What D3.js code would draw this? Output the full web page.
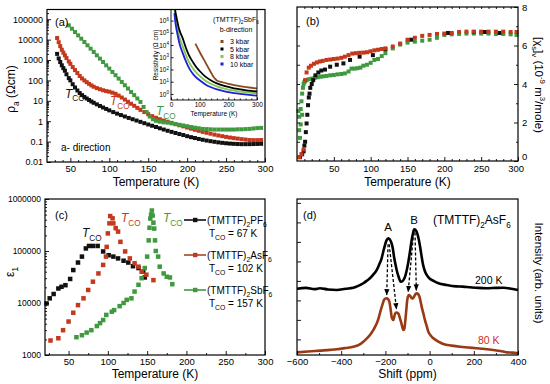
<!DOCTYPE html>
<html>
<head>
<meta charset="utf-8">
<script src="https://cdn.jsdelivr.net/npm/d3@7"></script>
<style>
  body { margin: 0; background: #fff; }
  svg text { font-family: "Liberation Sans", Arial, Helvetica, sans-serif; }
</style>
</head>
<body>
<svg id="chart" width="550" height="384"></svg>
<script>
// ---------- panel (a): resistivity, a-direction ----------
const tA_pf6 = [33, 35, 37, 39, 41, 43, 45, 48, 50, 53, 56, 59, 62, 65, 68, 71, 74, 77, 80, 84, 88, 92, 96, 100, 105, 110, 115, 120, 125, 130, 135, 140, 145, 150, 155, 160, 165, 170, 175, 180, 185, 190, 195, 200, 205, 210, 215, 220, 225, 230, 235, 240, 245, 250, 255, 260, 265, 270, 275, 280, 285, 290, 295];
const rhoA_pf6 = [2000, 1200, 800, 550, 400, 300, 200, 130, 100, 65, 45, 32, 24, 19, 15.5, 13, 11, 9.3, 8, 6.7, 5.6, 4.7, 4.0, 3.4, 2.8, 2.35, 2.0, 1.7, 1.45, 1.25, 1.08, 0.93, 0.8, 0.69, 0.6, 0.52, 0.45, 0.39, 0.34, 0.3, 0.265, 0.235, 0.21, 0.185, 0.165, 0.15, 0.135, 0.123, 0.113, 0.105, 0.098, 0.092, 0.087, 0.083, 0.08, 0.078, 0.076, 0.075, 0.075, 0.075, 0.076, 0.077, 0.078];
const tA_asf6 = [33, 35, 37, 39, 41, 43, 45, 48, 50, 53, 56, 59, 62, 65, 68, 71, 74, 77, 80, 84, 88, 92, 96, 100, 104, 108, 112, 116, 120, 124, 128, 132, 136, 140, 145, 150, 155, 160, 165, 170, 175, 180, 185, 190, 195, 200, 205, 210, 215, 220, 225, 230, 235, 240, 245, 250, 255, 260, 265, 270, 275, 280, 285, 290, 295];
const rhoA_asf6 = [12000, 7500, 4800, 3200, 2300, 1700, 1250, 850, 650, 450, 320, 230, 165, 125, 100, 82, 68, 57, 49, 42, 37, 33, 30, 28, 25, 22, 18, 14.5, 11.5, 9, 7.2, 5.7, 4.5, 3.6, 2.8, 2.2, 1.78, 1.47, 1.25, 1.08, 0.95, 0.83, 0.72, 0.63, 0.56, 0.49, 0.43, 0.38, 0.34, 0.3, 0.27, 0.245, 0.22, 0.2, 0.185, 0.17, 0.158, 0.148, 0.14, 0.132, 0.126, 0.12, 0.118, 0.118, 0.12];
const tA_sbf6 = [48, 52, 56, 60, 64, 68, 72, 76, 80, 84, 88, 92, 96, 100, 104, 108, 112, 116, 120, 124, 128, 132, 136, 140, 144, 148, 152, 156, 160, 165, 170, 175, 180, 185, 190, 195, 200, 205, 210, 215, 220, 225, 230, 235, 240, 245, 250, 255, 260, 265, 270, 275, 280, 285, 290, 295];
const rhoA_sbf6 = [50000, 34400, 23600, 16200, 11100, 7650, 5260, 3610, 2480, 1700, 1170, 800, 550, 380, 260, 180, 123, 84, 58, 40, 27, 19, 13, 8.8, 5.0, 2.8, 1.7, 1.25, 1.05, 0.95, 0.88, 0.85, 0.78, 0.72, 0.67, 0.62, 0.57, 0.52, 0.48, 0.45, 0.42, 0.41, 0.4, 0.39, 0.39, 0.39, 0.39, 0.39, 0.39, 0.4, 0.4, 0.41, 0.42, 0.44, 0.46, 0.47];
const aTicksX = [50, 100, 150, 200, 250, 300];
const aTicksY = [0.01, 0.1, 1, 10, 100, 1000, 10000, 100000];

// inset: (TMTTF)2SbF6, b-direction, under pressure
const tIn = [12, 15, 20, 25, 30, 40, 50, 60, 70, 80, 90, 100, 120, 140, 160, 180, 200, 220, 250, 280, 300];
const rhoIn5 = [2e7, 6e6, 1.5e6, 4e5, 1.5e5, 4e4, 8000, 2000, 700, 300, 140, 75, 26, 12.6, 7.4, 5, 3.7, 2.9, 2.2, 1.75, 1.6];
const rhoIn8 = [1e7, 2.5e6, 5e5, 1.2e5, 4e4, 9000, 2000, 550, 200, 95, 50, 30, 12, 6.5, 4.2, 3.0, 2.3, 1.9, 1.5, 1.25, 1.15];
const rhoIn10 = [4e6, 8e5, 1.5e5, 4e4, 1.2e4, 2500, 600, 180, 70, 35, 20, 13, 6, 3.5, 2.4, 1.8, 1.4, 1.15, 0.95, 0.8, 0.72];
const tIn3 = [85, 100, 120, 140, 148, 160, 180, 200, 220, 250, 280, 300];
const rhoIn3 = [13000, 2700, 380, 54, 25, 12.6, 9, 6.6, 5.2, 4, 3.2, 2.8];
const inLegend = ["3 kbar", "5 kbar", "8 kbar", "10 kbar"];
const inTicksX = [0, 100, 200, 300];
const inTicksY = [1, 10, 100, 1000, 10000, 100000, 1000000];

// ---------- panel (b): spin susceptibility ----------
const tB_pf6 = [4, 7, 9, 10, 11, 12, 13, 14, 15, 16, 17, 18, 20, 22, 25, 29, 33, 38, 45, 54, 63, 72, 85, 103, 120, 155, 205, 240, 255, 275];
const chiB_pf6 = [0.2, 0.35, 0.5, 0.8, 1.0, 1.5, 1.95, 2.4, 2.9, 3.3, 3.5, 3.8, 4.0, 4.2, 4.45, 4.6, 4.7, 4.75, 4.9, 5.0, 5.07, 5.25, 5.42, 5.5, 5.8, 6.3, 6.65, 6.7, 6.7, 6.65];
const tB_asf6 = [3, 6, 9, 11, 13, 16, 19, 23, 27, 31, 35, 40, 45, 50, 55, 60, 65, 70, 75, 80, 85, 90, 95, 100, 105, 110, 115, 120, 130, 140, 150, 160, 170, 180, 190, 200, 210, 220, 230, 240, 250, 260, 270, 280, 290, 298];
const chiB_asf6 = [0.2, 0.35, 0.6, 4.2, 4.6, 4.85, 4.95, 5.05, 5.12, 5.17, 5.2, 5.25, 5.27, 5.3, 5.32, 5.36, 5.42, 5.5, 5.58, 5.6, 5.62, 5.63, 5.65, 5.7, 5.75, 5.78, 5.82, 5.85, 5.95, 6.1, 6.3, 6.4, 6.5, 6.55, 6.6, 6.62, 6.65, 6.7, 6.72, 6.72, 6.72, 6.72, 6.72, 6.72, 6.7, 6.7];
const tB_sbf6 = [2, 3, 3, 4, 5, 5, 6, 7, 7, 8, 9, 10, 11, 13, 16, 20, 24, 28, 32, 36, 40, 45, 50, 55, 60, 65, 70, 74, 78, 82, 86, 90, 95, 100, 105, 110, 115, 120, 130, 140, 150, 160, 170, 180, 190, 200, 210, 220, 230, 240, 250, 260, 270, 280, 290, 298];
const chiB_sbf6 = [2.6, 2.3, 1.6, 1.2, 1.9, 2.7, 3.1, 2.4, 3.5, 3.8, 4.0, 4.1, 4.15, 4.2, 4.25, 4.28, 4.32, 4.35, 4.38, 4.4, 4.42, 4.45, 4.47, 4.5, 4.52, 4.55, 4.65, 4.8, 4.8, 4.82, 4.85, 4.95, 5.0, 5.1, 5.25, 5.3, 5.45, 5.6, 5.85, 6.05, 6.15, 6.2, 6.25, 6.3, 6.4, 6.55, 6.58, 6.6, 6.62, 6.62, 6.62, 6.62, 6.6, 6.6, 6.58, 6.55];
const bTicksX = [50, 100, 150, 200, 250, 300];
const bTicksY = [0, 2, 4, 6, 8];

// ---------- panel (c): dielectric constant ----------
const tC_pf6 = [22, 26, 31, 37, 41, 46, 52, 56, 62, 67, 72, 76, 81, 87, 94, 101, 107, 113, 120, 126, 132, 139, 145, 147];
const epsC_pf6 = [9800, 12300, 14900, 19000, 20500, 22000, 29000, 43000, 60000, 78000, 112000, 125000, 125000, 125000, 98000, 83000, 78000, 72000, 65000, 60000, 51000, 47000, 40000, 31000];
const tC_asf6 = [27, 37, 43, 50, 56, 62, 69, 75, 81, 88, 94, 97.6, 98.5, 100, 102, 103, 106, 107, 110, 113, 116, 122, 128, 134, 139, 143, 149, 158];
const epsC_asf6 = [1900, 2100, 3000, 4400, 6500, 9100, 12300, 17800, 25700, 37000, 54000, 78000, 120000, 218000, 340000, 470000, 425000, 340000, 275000, 236000, 150000, 98000, 72000, 58000, 50000, 40000, 35000, 27500];
const tC_sbf6 = [60, 67, 73, 79, 86, 90, 94, 98, 105, 108, 115, 120, 124, 130, 134, 139, 143, 147, 150, 152, 153, 154, 155, 156, 157, 158, 159, 160, 161, 164, 166, 171, 175, 179, 182];
const epsC_sbf6 = [2200, 2400, 2700, 3000, 3600, 4100, 4700, 5900, 6800, 7300, 8700, 10000, 11500, 12300, 16600, 22400, 30000, 47000, 78000, 160000, 280000, 420000, 500000, 600000, 480000, 350000, 270000, 160000, 100000, 78000, 50000, 37000, 32000, 31000, 23000];
const cLegendNames = ["PF", "AsF", "SbF"];
const cLegendTco = ["67", "102", "157"];
const cTicksX = [50, 100, 150, 200, 250, 300];
const cTicksY = [1000, 10000, 100000, 1000000];

// ---------- panel (d): NMR spectra ----------
const shift200 = [-600, -560, -520, -496, -460, -420, -380, -345, -320, -300, -285, -270, -255, -239, -228, -217, -210, -202, -195, -187, -180, -172, -166, -161, -155, -149, -140, -131, -122, -111, -104, -96, -88, -81, -75, -70, -63, -56, -49, -43, -37, -31, -22, -13, 0, 17, 40, 77, 120, 150, 183, 220, 258, 300, 334, 370, 400];
const int200 = [4.25, 4.3, 4.22, 4.28, 4.2, 4.17, 4.25, 4.31, 4.45, 4.6, 4.75, 4.92, 5.15, 5.45, 5.8, 6.2, 6.6, 7.05, 7.35, 7.48, 7.4, 7.16, 6.8, 6.3, 5.85, 5.45, 5.0, 4.7, 4.75, 5.02, 5.4, 5.98, 6.7, 7.37, 7.8, 8.06, 8.0, 7.8, 7.4, 6.94, 6.4, 5.88, 5.4, 5.13, 4.9, 4.76, 4.6, 4.49, 4.4, 4.38, 4.34, 4.3, 4.28, 4.3, 4.31, 4.25, 4.17];
const shift80 = [-600, -550, -496, -450, -420, -380, -345, -320, -300, -285, -270, -255, -239, -229, -221, -213, -206, -200, -194, -188, -182, -177, -172, -168, -164, -160, -157, -151, -146, -140, -134, -127, -119, -115, -111, -106, -101, -96, -92, -86, -80, -76, -70, -64, -58, -52, -46, -41, -36, -28, -21, -13, -6, 5, 17, 40, 62, 100, 138, 175, 213, 250, 288, 320, 349, 375, 400];
const int80 = [0.17, 0.22, 0.28, 0.33, 0.37, 0.45, 0.53, 0.65, 0.85, 1.05, 1.28, 1.6, 2.03, 2.45, 2.88, 3.25, 3.53, 3.62, 3.63, 3.58, 3.42, 3.0, 2.46, 2.3, 2.24, 2.45, 2.63, 2.72, 2.71, 2.62, 2.35, 2.0, 1.6, 1.65, 2.03, 2.8, 3.53, 3.8, 3.85, 3.75, 3.63, 3.62, 3.75, 3.9, 3.95, 3.9, 3.74, 3.45, 3.1, 2.65, 2.24, 1.85, 1.5, 1.25, 1.07, 0.85, 0.7, 0.6, 0.53, 0.48, 0.43, 0.38, 0.32, 0.26, 0.17, 0.15, 0.11];
// dashed arrows: [from shift, from intensity, to shift, to intensity]
const arrowsD = [[-188, 7.1, -194, 3.85], [-183, 7.1, -150, 2.95], [-72, 7.85, -97, 4.05], [-66, 7.85, -60, 4.15]];
const dTicksX = [-600, -400, -200, 0, 200, 400];

// ---------- helpers ----------
const svg = d3.select("#chart");
const black = "#111111", red = "#c4381c", green = "#3f9a3f", brown = "#a04a22";

function rich(sel, parts, size) {
    // parts: [text, "sub" | "sup" | undefined, italic?]
    let off = 0;
    parts.forEach(p => {
        const target = p[1] === "sub" ? size * 0.3 : p[1] === "sup" ? -size * 0.4 : 0;
        sel.append("tspan")
            .attr("dy", target - off)
            .attr("font-size", p[1] ? size * 0.68 : size)
            .attr("font-style", p[2] ? "italic" : null)
            .text(p[0]);
        off = target;
    });
    return sel;
}

function styleAxis(g, size) {
    g.attr("font-family", '"Liberation Sans", Arial, sans-serif').attr("font-size", size);
    g.select(".domain").remove();
    g.selectAll(".tick line").attr("stroke", "#000").attr("stroke-width", 0.9);
    g.selectAll(".tick text").attr("fill", "#000");
    return g;
}

function logMinor(lo, hi) {
    const out = [];
    for (let e = Math.floor(Math.log10(lo)); e <= Math.ceil(Math.log10(hi)); e++)
        for (let m = 2; m < 10; m++) {
            const v = m * Math.pow(10, e);
            if (v > lo && v < hi) out.push(v);
        }
    return out;
}

function squares(g, xs, ys, x, y, color, s) {
    g.append("g").selectAll("rect")
        .data(xs.map((t, i) => [t, ys[i]]))
        .join("rect")
        .attr("x", d => x(d[0]) - s / 2)
        .attr("y", d => y(d[1]) - s / 2)
        .attr("width", s)
        .attr("height", s)
        .attr("fill", color);
}

function frame(g, w, h, sw) {
    g.append("rect").attr("width", w).attr("height", h)
        .attr("fill", "none").attr("stroke", "#000").attr("stroke-width", sw || 1.2);
}

function tco(g, x, y, color, size) {
    rich(g.append("text").attr("x", x).attr("y", y).attr("fill", color),
        [["T", null, true], ["CO", "sub"]], size);
}

// ---------- (a) ----------
const A = { left: 47, top: 9.5, w: 218, h: 152.5 };
const gA = svg.append("g").attr("transform", `translate(${A.left},${A.top})`);
const xA = d3.scaleLinear().domain([20, 300]).range([0, A.w]);
const yA = d3.scaleLog().domain([0.01, 3e5]).range([A.h, 0]);

squares(gA, tA_pf6, rhoA_pf6, xA, yA, black, 4);
squares(gA, tA_asf6, rhoA_asf6, xA, yA, red, 4);
squares(gA, tA_sbf6, rhoA_sbf6, xA, yA, green, 4);

styleAxis(gA.append("g").attr("transform", `translate(0,${A.h})`)
    .call(d3.axisBottom(xA).tickValues(aTicksX).tickSizeInner(-4).tickSizeOuter(0).tickPadding(3)), 9.5);
styleAxis(gA.append("g").attr("transform", `translate(0,${A.h})`)
    .call(d3.axisBottom(xA).tickValues(d3.range(30, 300, 10).filter(v => v % 50)).tickSizeInner(-2).tickSizeOuter(0).tickFormat("")), 9);
styleAxis(gA.append("g")
    .call(d3.axisLeft(yA).tickValues(aTicksY).tickSizeInner(-4).tickSizeOuter(0).tickPadding(4).tickFormat(d => String(d))), 9);
styleAxis(gA.append("g")
    .call(d3.axisLeft(yA).tickValues(logMinor(0.01, 3e5)).tickSizeInner(-2).tickSizeOuter(0).tickFormat("")), 9);
frame(gA, A.w, A.h);

gA.append("text").attr("x", 8).attr("y", 16).attr("font-size", 11).text("(a)");
gA.append("text").attr("x", 14).attr("y", 141).attr("font-size", 10).text("a- direction");
tco(gA, 18, 88, black, 12);
tco(svg, 110, 105, red, 12);
tco(svg, 156, 115, green, 12);

svg.append("text").attr("x", A.left + A.w / 2).attr("y", 186).attr("text-anchor", "middle")
    .attr("font-size", 12).text("Temperature (K)");
rich(svg.append("text").attr("transform", "translate(15,89) rotate(-90)").attr("text-anchor", "middle"),
    [["ρ"], ["a", "sub"], [" (Ωcm)"]], 12);

// inset
const I = { left: 171, top: 9.5, w: 86, h: 90.5 };
const gI = svg.append("g").attr("transform", `translate(${I.left},${I.top})`);
const xI = d3.scaleLinear().domain([0, 300]).range([0, I.w]);
const yI = d3.scaleLog().domain([0.32, 8e6]).range([I.h, 0]);
gI.append("clipPath").attr("id", "inset-clip").append("rect").attr("width", I.w).attr("height", I.h);
const lineI = (ts) => d3.line().x((d, i) => xI(ts[i])).y(d => yI(d)).curve(d3.curveMonotoneX);
const gIL = gI.append("g").attr("clip-path", "url(#inset-clip)");
const inSeries = [
    [tIn, rhoIn8, "#7ec850"],
    [tIn, rhoIn10, "#1f1fd6"],
    [tIn, rhoIn5, "#000000"],
    [tIn3, rhoIn3, "#8b4a1e"]
];
inSeries.forEach(s => {
    gIL.append("path").attr("d", lineI(s[0])(s[1]))
        .attr("fill", "none").attr("stroke", s[2]).attr("stroke-width", 1.8);
});
styleAxis(gI.append("g").attr("transform", `translate(0,${I.h})`)
    .call(d3.axisBottom(xI).tickValues(inTicksX).tickSizeInner(-2.5).tickSizeOuter(0).tickPadding(2)), 6.5);
styleAxis(gI.append("g").attr("transform", `translate(0,${I.h})`)
    .call(d3.axisBottom(xI).tickValues(d3.range(20, 300, 20).filter(v => v % 100)).tickSizeInner(-1.5).tickSizeOuter(0).tickFormat("")), 6.5);
const inY = styleAxis(gI.append("g")
    .call(d3.axisLeft(yI).tickValues(inTicksY).tickSizeInner(-2.5).tickSizeOuter(0).tickPadding(2)), 6.5);
inY.selectAll(".tick text").each(function (d) {
    const t = d3.select(this).text("");
    t.append("tspan").text("10");
    t.append("tspan").attr("dy", -2.5).attr("font-size", 4.5).text(Math.round(Math.log10(d)));
});
frame(gI, I.w, I.h, 0.9);
svg.append("text").attr("x", I.left + I.w / 2).attr("y", 116).attr("text-anchor", "middle")
    .attr("font-size", 6.5).text("Temperature (K)");
svg.append("text").attr("transform", "translate(158,55) rotate(-90)").attr("text-anchor", "middle")
    .attr("font-size", 6.5).text("Resistivity (Ω cm)");
rich(svg.append("text").attr("x", 236).attr("y", 22).attr("text-anchor", "middle"),
    [["(TMTTF)"], ["2", "sub"], ["SbF"], ["6", "sub"]], 7);
svg.append("text").attr("x", 236).attr("y", 32).attr("text-anchor", "middle").attr("font-size", 7).text("b-direction");
const inColors = ["#8b4a1e", "#000000", "#7ec850", "#1f1fd6"];
inLegend.forEach((name, i) => {
    const yy = 42 + i * 7.5;
    svg.append("rect").attr("x", 220.5).attr("y", yy - 2).attr("width", 3).attr("height", 3).attr("fill", inColors[i]);
    svg.append("text").attr("x", 230).attr("y", yy + 2.3).attr("font-size", 7).text(name);
});

// ---------- (b) ----------
const B = { left: 297, top: 7, w: 221, h: 154 };
const gB = svg.append("g").attr("transform", `translate(${B.left},${B.top})`);
const xB = d3.scaleLinear().domain([0, 300]).range([0, B.w]);
const yB = d3.scaleLinear().domain([0, 8]).range([B.h, 0]);

squares(gB, tB_sbf6, chiB_sbf6, xB, yB, green, 4);
squares(gB, tB_pf6, chiB_pf6, xB, yB, black, 4);
squares(gB, tB_asf6, chiB_asf6, xB, yB, red, 4);

const bBottom = styleAxis(gB.append("g").attr("transform", `translate(0,${B.h})`)
    .call(d3.axisBottom(xB).tickValues(bTicksX).tickSizeInner(-4).tickSizeOuter(0).tickPadding(4)), 9.5);
bBottom.selectAll(".tick text").filter(d => d === 300).attr("dx", "-0.25em");
styleAxis(gB.append("g").attr("transform", `translate(0,${B.h})`)
    .call(d3.axisBottom(xB).tickValues(d3.range(10, 300, 10).filter(v => v % 50)).tickSizeInner(-2).tickSizeOuter(0).tickFormat("")), 9);
styleAxis(gB.append("g")
    .call(d3.axisTop(xB).tickValues(d3.range(10, 300, 10)).tickSizeInner(-2).tickSizeOuter(0).tickFormat("")), 9);
styleAxis(gB.append("g")
    .call(d3.axisLeft(yB).tickValues(d3.range(1, 8, 1)).tickSizeInner(-3).tickSizeOuter(0).tickFormat("")), 9);
const bRight = styleAxis(gB.append("g").attr("transform", `translate(${B.w},0)`)
    .call(d3.axisRight(yB).tickValues(bTicksY).tickSizeInner(-4).tickSizeOuter(0).tickPadding(4)), 9.5);
bRight.selectAll(".tick text").filter(d => d === 0).attr("dy", "-0.15em");
styleAxis(gB.append("g").attr("transform", `translate(${B.w},0)`)
    .call(d3.axisRight(yB).tickValues([1, 3, 5, 7]).tickSizeInner(-2).tickSizeOuter(0).tickFormat("")), 9);
frame(gB, B.w, B.h);

gB.append("text").attr("x", 9).attr("y", 18).attr("font-size", 11).text("(b)");
svg.append("text").attr("x", B.left + B.w / 2).attr("y", 186).attr("text-anchor", "middle")
    .attr("font-size", 12).text("Temperature (K)");
rich(svg.append("text").attr("transform", "translate(535,85) rotate(90)").attr("text-anchor", "middle"),
    [["[χ"], ["s", "sub"], ["]"], ["v", "sub"], [" (10"], ["-9", "sup"], [" m"], ["3", "sup"], ["/mole)"]], 11.5);

// ---------- (c) ----------
const C = { left: 45, top: 199, w: 220, h: 156 };
const gC = svg.append("g").attr("transform", `translate(${C.left},${C.top})`);
const xC = d3.scaleLinear().domain([20, 300]).range([0, C.w]);
const yC = d3.scaleLog().domain([1000, 1e6]).range([C.h, 0]);

squares(gC, tC_pf6, epsC_pf6, xC, yC, black, 4.5);
squares(gC, tC_asf6, epsC_asf6, xC, yC, red, 4.5);
squares(gC, tC_sbf6, epsC_sbf6, xC, yC, green, 4.5);

styleAxis(gC.append("g").attr("transform", `translate(0,${C.h})`)
    .call(d3.axisBottom(xC).tickValues(cTicksX).tickSizeInner(-4).tickSizeOuter(0).tickPadding(3)), 9.5);
styleAxis(gC.append("g").attr("transform", `translate(0,${C.h})`)
    .call(d3.axisBottom(xC).tickValues(d3.range(25, 300, 25).filter(v => v % 50)).tickSizeInner(-2).tickSizeOuter(0).tickFormat("")), 9);
styleAxis(gC.append("g")
    .call(d3.axisLeft(yC).tickValues(cTicksY).tickSizeInner(-4).tickSizeOuter(0).tickPadding(4).tickFormat(d => String(d))), 8.5);
styleAxis(gC.append("g")
    .call(d3.axisLeft(yC).tickValues(logMinor(1000, 1e6)).tickSizeInner(-2).tickSizeOuter(0).tickFormat("")), 9);
frame(gC, C.w, C.h);

gC.append("text").attr("x", 10).attr("y", 20).attr("font-size", 11).text("(c)");
tco(svg, 82, 237, black, 12);
tco(svg, 121, 222, red, 12);
tco(svg, 163, 222, green, 12);

const cColors = [[black, black], [brown, red], [green, green]];
cLegendNames.forEach((name, i) => {
    const yy = 220 + i * 35;
    svg.append("line").attr("x1", 184).attr("x2", 206).attr("y1", yy).attr("y2", yy)
        .attr("stroke", cColors[i][0]).attr("stroke-width", 1.6);
    svg.append("rect").attr("x", 193).attr("y", yy - 2.2).attr("width", 4.4).attr("height", 4.4).attr("fill", cColors[i][1]);
    rich(svg.append("text").attr("x", 207).attr("y", yy + 3.5),
        [["(TMTTF)"], ["2", "sub"], [name], ["6", "sub"]], 10);
    rich(svg.append("text").attr("x", 209).attr("y", yy + 17),
        [["T"], ["CO", "sub"], [" = " + cLegendTco[i] + " K"]], 10);
});

svg.append("text").attr("x", C.left + C.w / 2).attr("y", 378).attr("text-anchor", "middle")
    .attr("font-size", 12).text("Temperature (K)");
rich(svg.append("text").attr("transform", "translate(14,272) rotate(-90)").attr("text-anchor", "middle"),
    [["ε"], ["1", "sub"]], 12);

// ---------- (d) ----------
const D = { left: 297, top: 199, w: 221, h: 156 };
const gD = svg.append("g").attr("transform", `translate(${D.left},${D.top})`);
const xD = d3.scaleLinear().domain([-600, 400]).range([0, D.w]);
const yD = d3.scaleLinear().domain([0, 10]).range([D.h, 0]);
const lineD = (xs) => d3.line().x((d, i) => xD(xs[i])).y(d => yD(d)).curve(d3.curveMonotoneX);

gD.append("path").attr("d", lineD(shift200)(int200))
    .attr("fill", "none").attr("stroke", "#000").attr("stroke-width", 2.6).attr("stroke-linejoin", "round");
gD.append("path").attr("d", lineD(shift80)(int80))
    .attr("fill", "none").attr("stroke", "#9a3a14").attr("stroke-width", 2.6).attr("stroke-linejoin", "round");

const defs = svg.append("defs");
defs.append("marker").attr("id", "arrowhead").attr("viewBox", "0 0 10 10")
    .attr("refX", 9).attr("refY", 5).attr("markerWidth", 5).attr("markerHeight", 5).attr("orient", "auto")
    .append("path").attr("d", "M0,1 L10,5 L0,9 Z").attr("fill", "#000");
gD.selectAll(".arrow").data(arrowsD).join("line").attr("class", "arrow")
    .attr("x1", d => xD(d[0])).attr("y1", d => yD(d[1]))
    .attr("x2", d => xD(d[2])).attr("y2", d => yD(d[3]))
    .attr("stroke", "#000").attr("stroke-width", 1.3).attr("stroke-dasharray", "3,2")
    .attr("marker-end", "url(#arrowhead)");

styleAxis(gD.append("g").attr("transform", `translate(0,${D.h})`)
    .call(d3.axisBottom(xD).tickValues(dTicksX).tickSizeInner(-4).tickSizeOuter(0).tickPadding(3)), 9.5);
styleAxis(gD.append("g").attr("transform", `translate(0,${D.h})`)
    .call(d3.axisBottom(xD).tickValues([-500, -300, -100, 100, 300]).tickSizeInner(-2).tickSizeOuter(0).tickFormat("")), 9);
styleAxis(gD.append("g")
    .call(d3.axisLeft(yD).tickValues(d3.range(1, 10, 1.25)).tickSizeInner(-4).tickSizeOuter(0).tickFormat("")), 9);
frame(gD, D.w, D.h);

gD.append("text").attr("x", 6).attr("y", 20).attr("font-size", 11).text("(d)");
svg.append("text").attr("x", 388).attr("y", 231).attr("text-anchor", "middle").attr("font-size", 11.5).text("A");
svg.append("text").attr("x", 414).attr("y", 224).attr("text-anchor", "middle").attr("font-size", 11.5).text("B");
rich(svg.append("text").attr("x", 433).attr("y", 224),
    [["(TMTTF)"], ["2", "sub"], ["AsF"], ["6", "sub"]], 12);
svg.append("text").attr("x", 475).attr("y", 284).attr("font-size", 10.5).text("200 K");
svg.append("text").attr("x", 478).attr("y", 344).attr("font-size", 10.5).attr("fill", "#d0301c").text("80 K");

svg.append("text").attr("x", D.left + D.w / 2).attr("y", 378).attr("text-anchor", "middle")
    .attr("font-size", 12).text("Shift (ppm)");
svg.append("text").attr("transform", "translate(535,273) rotate(90)").attr("text-anchor", "middle")
    .attr("font-size", 11.5).text("Intensity (arb. units)");
</script>
</body>
</html>
